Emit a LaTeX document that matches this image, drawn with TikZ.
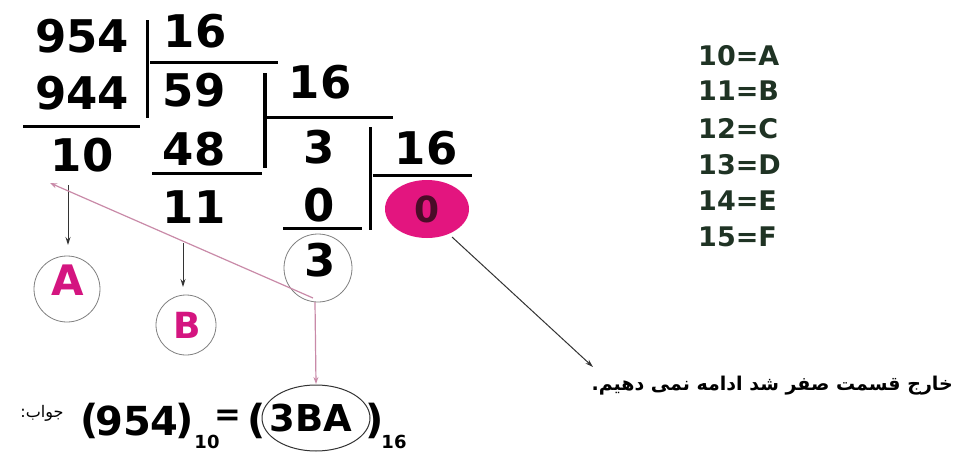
\documentclass[tikz,border=0pt]{standalone}
\usepackage{fontspec}
\setmainfont{DejaVu Sans}
\newfontfamily\arabicfont[Script=Arabic]{DejaVu Sans}
\usetikzlibrary{arrows.meta,shapes.geometric}
\TeXXeTstate=1
\definecolor{mag}{HTML}{E3157F}
\definecolor{magtxt}{HTML}{D41580}
\definecolor{pinkline}{HTML}{C98AA8}
\definecolor{maroon}{HTML}{4A0C28}
\definecolor{tabgreen}{HTML}{1F3324}
\definecolor{circgray}{HTML}{808080}
\tikzset{
  big/.style={font=\fontsize{45}{45}\selectfont\bfseries, inner sep=0pt, anchor=center},
  mid/.style={font=\fontsize{40}{40}\selectfont\bfseries, inner sep=0pt, anchor=center},
  bar/.style={line width=3pt, black},
  tab/.style={font=\fontsize{27}{27}\selectfont\bfseries, text=tabgreen, inner sep=0pt, anchor=west},
  ring/.style={circle, draw=circgray, line width=0.8pt, inner sep=0pt},
  pinkarrow/.style={draw=pinkline, line width=1.2pt, -{Stealth[length=7pt,width=5pt]}},
  blackarrow/.style={draw=black!80, line width=1pt, -{Stealth[length=8pt,width=5pt]}},
}
\begin{document}
\begin{tikzpicture}[x=1pt,y=-1pt]
\useasboundingbox (0,0) rectangle (956,455);
\fill[white] (0,0) rectangle (956,455);
% digits
\node[big] (n954) at (82,36) {954};
\node[big] (n16a) at (195,31) {16};
\node[big] (n944) at (82,93) {944};
\node[big] (n59) at (194,90) {59};
\node[big] (n16b) at (320,82) {16};
\node[big] (n10) at (82,155) {10};
\node[big] (n48) at (194,149) {48};
\node[big] (n3) at (319,147) {3};
\node[big] (n16c) at (426,148) {16};
\node[big] (n11) at (194,207) {11};
\node[big] (n0) at (319,205) {0};
% division bars
\draw[bar] (147,20) -- (147,118);
\draw[bar] (150,62) -- (278,62);
\draw[bar] (23,126) -- (140,126);
\draw[bar, line width=4pt] (265,73) -- (265,168);
\draw[bar] (267,117) -- (393,117);
\draw[bar] (152,173) -- (262,173);
\draw[bar] (370,127) -- (370,230);
\draw[bar] (373,175) -- (472,175);
\draw[bar] (283,228) -- (362,228);
% pink ellipse with 0
\node[ellipse, fill=mag, minimum width=84pt, minimum height=58pt, inner sep=0pt,
      font=\fontsize{36}{36}\selectfont\bfseries, text=maroon] (e0) at (427,209) {0};
% circled remainders
\node[ring, minimum size=68pt] (c3) at (318,268) {};
\node[big] (t3) at (320,260) {3};
\node[ring, minimum size=66pt] (cA) at (67,289) {};
\node[font=\fontsize{42}{42}\selectfont\bfseries, text=magtxt, inner sep=0pt] (tA) at (68,280) {A};
\node[ring, minimum size=60pt] (cB) at (186,325) {};
\node[font=\fontsize{36}{36}\selectfont\bfseries, text=magtxt, inner sep=0pt] (tB) at (187,325) {B};
% arrows
\coordinate (a0) at (68,185);
\coordinate (a1) at (68,245);
\draw[blackarrow] (a0) -- (a1);
\coordinate (b0) at (183,243);
\coordinate (b1) at (183,287);
\draw[blackarrow] (b0) -- (b1);
\coordinate (p0) at (313,298);
\coordinate (p1) at (50,183);
\draw[pinkarrow] (p0) -- (p1);
\coordinate (q0) at (315,302);
\coordinate (q1) at (316,384);
\draw[pinkarrow] (q0) -- (q1);
\coordinate (r0) at (452,237);
\coordinate (r1) at (593,367);
\draw[blackarrow] (r0) -- (r1);
% persian note
\node[anchor=east, inner sep=0pt, font=\arabicfont\fontsize{19}{19}\selectfont\bfseries] (note) at (953,386)
  {\beginR خارج قسمت صفر شد ادامه نمی دهیم.\endR};
% table
\node[tab] (r10) at (698,56) {10=A};
\node[tab] (r11) at (698,91) {11=B};
\node[tab] (r12) at (698,129) {12=C};
\node[tab] (r13) at (698,165) {13=D};
\node[tab] (r14) at (698,201) {14=E};
\node[tab] (r15) at (698,237) {15=F};
% result line
\node[anchor=center, inner sep=0pt, font=\arabicfont\fontsize{16}{16}\selectfont] (ans) at (42,413) {\beginR جواب:\endR};
\node[mid] (lp1) at (90,421) {(};
\node[mid] (d954) at (137,421) {954};
\node[mid] (rp1) at (185,421) {)};
\node[inner sep=0pt, font=\fontsize{18}{18}\selectfont\bfseries] (s10) at (207,442) {10};
\node[inner sep=0pt, font=\fontsize{32}{32}\selectfont\bfseries] (eq) at (228,418) {=};
\node[mid] (lp2) at (257,421) {(};
\node[ellipse, draw=black!80, line width=1pt, minimum width=108pt, minimum height=66pt, inner sep=0pt] (e3BA) at (316,418) {};
\node[mid, font=\fontsize{37}{37}\selectfont\bfseries] (t3BA) at (311,418) {3BA};
\node[mid] (rp2) at (375,421) {)};
\node[inner sep=0pt, font=\fontsize{18}{18}\selectfont\bfseries] (s16) at (394,442) {16};
\end{tikzpicture}
\end{document}
